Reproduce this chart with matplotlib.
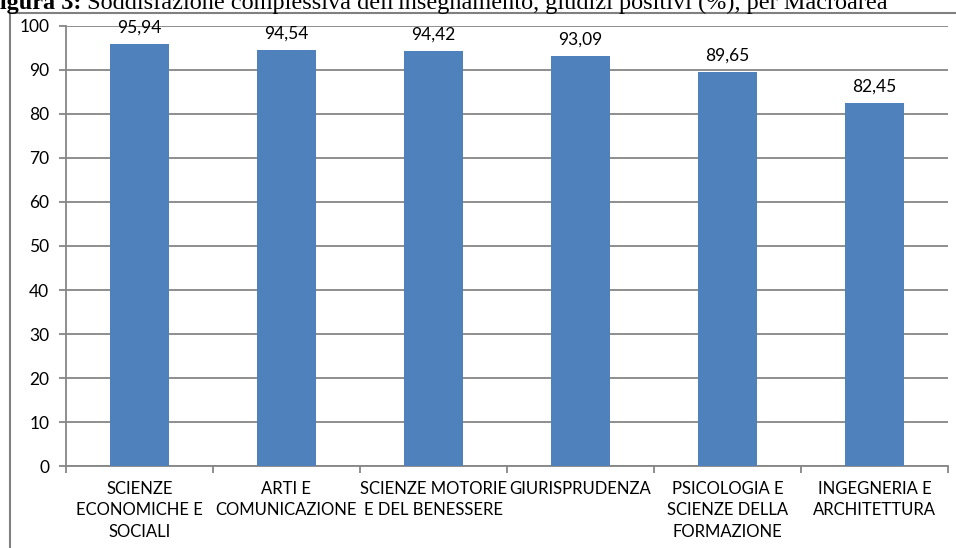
import matplotlib
matplotlib.use("Agg")
import matplotlib.pyplot as plt
from matplotlib.lines import Line2D
from matplotlib.transforms import offset_copy
import numpy as np

categories = [
    "SCIENZE\nECONOMICHE E\nSOCIALI",
    "ARTI E\nCOMUNICAZIONE",
    "SCIENZE MOTORIE\nE DEL BENESSERE",
    "GIURISPRUDENZA",
    "PSICOLOGIA E\nSCIENZE DELLA\nFORMAZIONE",
    "INGEGNERIA E\nARCHITETTURA",
]
values = [95.94, 94.54, 94.42, 93.09, 89.65, 82.45]
y_ticks = [0, 10, 20, 30, 40, 50, 60, 70, 80, 90, 100]

plt.rcParams['font.family'] = ['Lato', 'DejaVu Sans']

fig = plt.figure(figsize=(9.56, 5.48), dpi=100)
ax = fig.add_axes([0.069, 0.1496, 0.9226, 0.803])

x = np.arange(len(values))
ax.bar(x, values, width=0.4, color='#4F81BD', zorder=3)

for xi, v in zip(x, values):
    ax.annotate(f"{v:.2f}".replace('.', ','), (xi, v), xytext=(0, 6),
                textcoords="offset points", ha='center', va='bottom', fontsize=12.5)

ax.set_xlim(-0.5, len(values) - 0.5)
ax.set_ylim(0, 100)
ax.set_yticks(y_ticks)
ax.set_yticklabels([str(t) for t in y_ticks], fontsize=12.5)
ax.yaxis.grid(True, color='#868686', linewidth=1.3, zorder=0)

# category labels centred, ticks at boundaries
ax.set_xticks(np.arange(len(values) + 1) - 0.5)
ax.set_xticklabels([])
ax.set_xticks(x, minor=True)
ax.set_xticklabels(categories, minor=True, fontsize=12, linespacing=1.4, va='top')
ax.tick_params(axis='x', which='minor', length=0, pad=11)
ax.tick_params(axis='x', which='major', length=5, color='#868686', width=1.3)
ax.tick_params(axis='y', length=5, color='#868686', width=1.3, pad=7)

for s in ['top', 'right']:
    ax.spines[s].set_visible(False)
for s in ['left', 'bottom']:
    ax.spines[s].set_color('#868686')
    ax.spines[s].set_linewidth(1.3)

# outer frame (cropped)
fig.add_artist(Line2D([0.0105, 1.0], [0.976, 0.976], color='#808080', linewidth=1.5))
fig.add_artist(Line2D([0.0105, 0.0105], [0.0, 0.976], color='#808080', linewidth=1.5))

# caption cut by the top edge, as in the source
t1 = fig.text(-0.016, 0.984, "Figura 3:", family='Liberation Serif', fontweight='bold',
              fontsize=17.5, va='baseline', ha='left')
fig.canvas.draw()
w = t1.get_window_extent().width
fig.text(-0.016, 0.984,
         " Soddisfazione complessiva dell'insegnamento, giudizi positivi (%), per Macroarea",
         family='Liberation Serif', fontsize=17.5, va='baseline', ha='left',
         transform=offset_copy(fig.transFigure, fig=fig, x=w, y=0, units='dots'))

fig.savefig("out.png", dpi=100)
